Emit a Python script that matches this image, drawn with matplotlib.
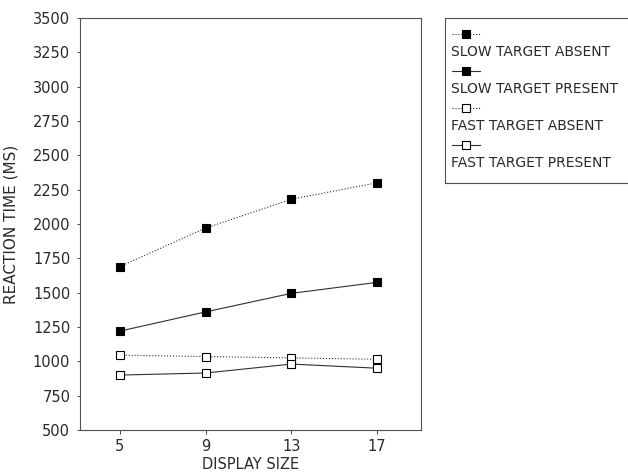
import numpy as np
import matplotlib.pyplot as plt
from matplotlib.lines import Line2D

plt.rcParams['font.family'] = ['DejaVu Sans']

# Tamaño del despliegue y tiempos de reacción medios (ms)
display_size = [5, 9, 13, 17]
slow_absent = [1690, 1970, 2180, 2300]
slow_present = [1220, 1360, 1495, 1575]
fast_absent = [1045, 1035, 1025, 1015]
fast_present = [900, 915, 980, 950]

series = [
    ("SLOW TARGET ABSENT", slow_absent, ':', 'black'),
    ("SLOW TARGET PRESENT", slow_present, '-', 'black'),
    ("FAST TARGET ABSENT", fast_absent, ':', 'white'),
    ("FAST TARGET PRESENT", fast_present, '-', 'white'),
]

yticks = np.arange(500, 3501, 250)
txt_color = '#2a2a2a'
line_color = '#303030'

fig = plt.figure(figsize=(6.28, 4.72), dpi=100)
ax = fig.add_axes([80 / 628, 1 - 430 / 472, 341 / 628, 412 / 472])

for label, vals, ls, face in series:
    ax.plot(display_size, vals, linestyle=ls, color=line_color, lw=0.8,
            marker='s', markersize=6, markerfacecolor=face,
            markeredgecolor='black', markeredgewidth=0.8)

ax.set_xlim(3.14, 19.05)
ax.set_ylim(500, 3500)
ax.set_xticks(display_size)
ax.set_yticks(yticks)
ax.tick_params(axis='both', labelsize=10.5, colors=txt_color, length=3, width=0.6)
ax.tick_params(axis='y', length=2, pad=5)
for s in ax.spines.values():
    s.set_linewidth(0.8)
    s.set_color('#505050')
ax.set_xlabel("DISPLAY SIZE", fontsize=10.5, color=txt_color, labelpad=2)
ax.set_ylabel("REACTION TIME (MS)", fontsize=11, color=txt_color, labelpad=10)

# Leyenda: símbolo en una fila y texto en la siguiente
lax = fig.add_axes([445 / 628, 1 - 183 / 472, 190 / 628, 165 / 472])
lax.set_xlim(0, 190)
lax.set_ylim(165, 0)
lax.set_xticks([])
lax.set_yticks([])
for s in lax.spines.values():
    s.set_linewidth(0.8)
    s.set_color('#505050')
for i, (label, vals, ls, face) in enumerate(series):
    y0 = 16 + i * 37
    lax.add_line(Line2D([7, 35], [y0, y0], linestyle=ls, color=line_color, lw=0.8))
    lax.add_line(Line2D([21], [y0], marker='s', markersize=6,
                        markerfacecolor=face, markeredgecolor='black',
                        markeredgewidth=0.8, linestyle='none'))
    lax.text(6, y0 + 18, label, fontsize=10, color=txt_color, va='center', ha='left')

fig.savefig("out.png", dpi=100)
